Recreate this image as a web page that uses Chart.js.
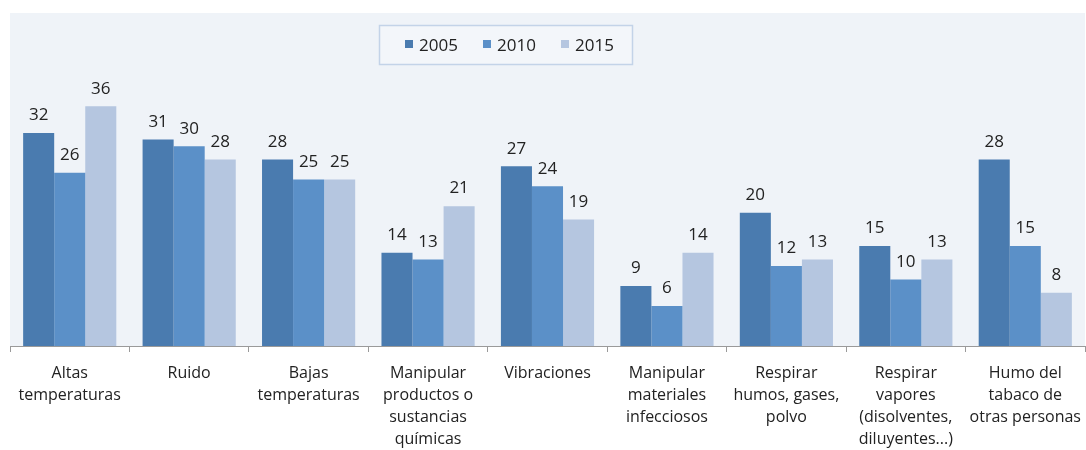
<!DOCTYPE html>
<html>
<head>
<meta charset="utf-8">
<script src="https://cdn.jsdelivr.net/npm/chart.js@4.4.1/dist/chart.umd.min.js"></script>
<style>
  html, body { margin: 0; padding: 0; background: #fff; }
  #wrap { width: 1086px; height: 450px; }
</style>
</head>
<body>
<div id="wrap"><canvas id="chart"></canvas></div>
<script>
const categories = [
  ["Altas", "temperaturas"],
  ["Ruido"],
  ["Bajas", "temperaturas"],
  ["Manipular", "productos o", "sustancias", "químicas"],
  ["Vibraciones"],
  ["Manipular", "materiales", "infecciosos"],
  ["Respirar", "humos, gases,", "polvo"],
  ["Respirar", "vapores", "(disolventes,", "diluyentes...)"],
  ["Humo del", "tabaco de", "otras personas"]
];
const years = ["2005", "2010", "2015"];
const values2005 = [32, 31, 28, 14, 27, 9, 20, 15, 28];
const values2010 = [26, 30, 25, 13, 24, 6, 12, 10, 15];
const values2015 = [36, 28, 25, 21, 19, 14, 13, 13, 8];
const colors = ["#4a7baf", "#5b90c8", "#b5c6e0"];

const FONT = "'Open Sans', sans-serif";

// plot background
const plotBg = {
  id: "plotBg",
  beforeDraw(chart) {
    const { ctx, chartArea: a } = chart;
    ctx.save();
    ctx.fillStyle = "#eff3f8";
    ctx.fillRect(a.left, a.top, a.right - a.left, a.bottom - a.top);
    ctx.restore();
  }
};

// value labels above bars
const valueLabels = {
  id: "valueLabels",
  afterDatasetsDraw(chart) {
    const { ctx } = chart;
    ctx.save();
    ctx.font = "17px " + FONT;
    ctx.fillStyle = "#222";
    ctx.textAlign = "center";
    ctx.textBaseline = "bottom";
    chart.data.datasets.forEach((ds, i) => {
      chart.getDatasetMeta(i).data.forEach((bar, j) => {
        ctx.fillText(ds.data[j], bar.x, bar.y - 9);
      });
    });
    ctx.restore();
  }
};

// boxed legend inside the plot
const boxLegend = {
  id: "boxLegend",
  afterDraw(chart) {
    const { ctx } = chart;
    const x0 = 379, y0 = 25, w = 253, h = 39;
    ctx.save();
    ctx.fillStyle = "#f3f6fa";
    ctx.fillRect(x0, y0, w, h);
    ctx.strokeStyle = "#c3d3e8";
    ctx.lineWidth = 1.5;
    ctx.strokeRect(x0 + 0.5, y0 + 0.5, w, h);
    ctx.font = "17px " + FONT;
    ctx.textBaseline = "middle";
    ctx.textAlign = "left";
    const starts = [405, 483, 561];
    chart.data.datasets.forEach((ds, i) => {
      ctx.fillStyle = ds.backgroundColor;
      ctx.fillRect(starts[i], 40, 8, 8);
      ctx.fillStyle = "#222";
      ctx.fillText(ds.label, starts[i] + 14, 46);
    });
    ctx.restore();
  }
};

const seriesValues = [values2005, values2010, values2015];

new Chart(document.getElementById("chart"), {
  type: "bar",
  data: {
    labels: categories,
    datasets: years.map((y, i) => ({
      label: y,
      data: seriesValues[i],
      backgroundColor: colors[i],
      categoryPercentage: 0.78,
      barPercentage: 1.0
    }))
  },
  options: {
    responsive: true,
    maintainAspectRatio: false,
    animation: false,
    layout: { padding: { left: 10, right: 1, top: 13, bottom: 0 } },
    plugins: {
      legend: { display: false },
      tooltip: { enabled: false }
    },
    scales: {
      y: {
        display: false,
        min: 0,
        max: 50
      },
      x: {
        afterFit(scale) {
          scale.height -= 10;
          scale.paddingLeft = 0;
          scale.paddingRight = 0;
        },
        grid: {
          display: true,
          drawOnChartArea: false,
          drawTicks: true,
          tickLength: 6,
          color: "#9a9a9a",
          offset: true
        },
        border: { display: true, color: "#9a9a9a", width: 1 },
        ticks: {
          color: "#222",
          font: { family: FONT, size: 16, lineHeight: "22px" },
          padding: 10,
          maxRotation: 0,
          autoSkip: false
        }
      }
    }
  },
  plugins: [plotBg, valueLabels, boxLegend]
});
</script>
</body>
</html>
